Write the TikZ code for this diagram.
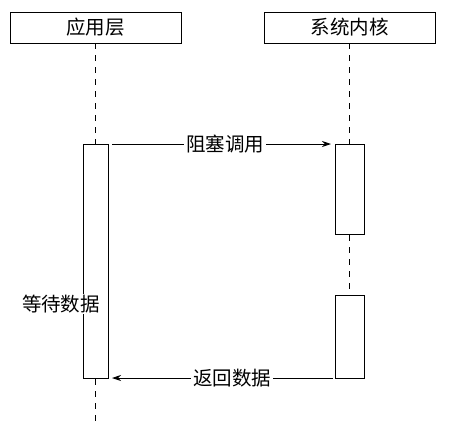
\documentclass[tikz,border=0pt]{standalone}
\usepackage{fontspec}
\newfontfamily\cjk{Noto Sans CJK SC}
\usetikzlibrary{arrows.meta}
\begin{document}
\begin{tikzpicture}[x=1pt,y=-1pt,
  every node/.style={font=\cjk\fontsize{19.5}{21}\selectfont},
  head/.style={draw,line width=0.9pt,minimum width=171pt,minimum height=31pt,inner sep=0pt},
  act/.style={draw,fill=white,line width=0.9pt,inner sep=0pt},
  life/.style={dash pattern=on 6pt off 6pt,line width=0.9pt},
  msg/.style={line width=0.9pt},
  tip/.style={-{Stealth[length=9pt,width=6pt]}},
  lbl/.style={fill=white,inner sep=2pt}]
\useasboundingbox (0,0) rectangle (472,440);
\node[head] (app) at (95.5,27.5) {应用层};
\node[head] (ker) at (349.5,27.5) {系统内核};
\coordinate (append) at (95.5,426);
\coordinate (kerend) at (349.5,295);
\draw[life] (app.south) -- (append);
\draw[life] (ker.south) -- (kerend);
\node[act,minimum width=25pt,minimum height=234pt] (a1) at (95.5,261) {};
\node[act,minimum width=29pt,minimum height=90pt] (k1) at (349.5,189) {};
\node[act,minimum width=29pt,minimum height=83pt] (k2) at (349.5,336.5) {};
\node[lbl,inner sep=1pt] (wait) at (61,304) {等待数据};
\coordinate (c1s) at (112,144);
\coordinate (c1e) at (331,144);
\coordinate (c2s) at (333,378);
\coordinate (c2e) at (112,378);
\node[lbl] (l1) at (225,144) {阻塞调用};
\node[lbl] (l2) at (232,378) {返回数据};
\draw[msg] (c1s) -- (l1.west);
\draw[msg,tip] (l1.east) -- (c1e);
\draw[msg] (c2s) -- (l2.east);
\draw[msg,tip] (l2.west) -- (c2e);
\end{tikzpicture}
\end{document}
